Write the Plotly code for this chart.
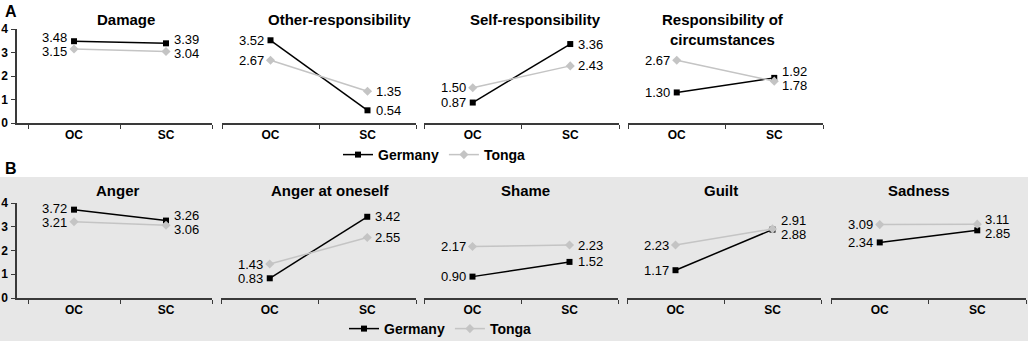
import plotly.graph_objects as go

# ---------------- data ----------------
conditions = ["OC", "SC"]
y_ticks = [0, 1, 2, 3, 4]

panel_a_titles = ["Damage", "Other-responsibility", "Self-responsibility",
                  "Responsibility of<br>circumstances"]
panel_a_germany = [[3.48, 3.39], [3.52, 0.54], [0.87, 3.36], [1.30, 1.92]]
panel_a_tonga = [[3.15, 3.04], [2.67, 1.35], [1.50, 2.43], [2.67, 1.78]]

panel_b_titles = ["Anger", "Anger at oneself", "Shame", "Guilt", "Sadness"]
panel_b_germany = [[3.72, 3.26], [0.83, 3.42], [0.90, 1.52], [1.17, 2.88], [2.34, 2.85]]
panel_b_tonga = [[3.21, 3.06], [1.43, 2.55], [2.17, 2.23], [2.23, 2.91], [3.09, 3.11]]

series_names = ["Germany", "Tonga"]

# ---------------- style / layout ----------------
W, H = 1028, 341
FONT = "Liberation Sans, Arial, sans-serif"
AXIS_COLOR = "#3a3a3a"
G_COLOR = "#000000"
T_COLOR = "#c4c4c4"


def fx(p):
    return p / W


def fy(p):
    return 1 - p / H


panels = [
    dict(letter="A", letter_y=12, titles=panel_a_titles, g=panel_a_germany, t=panel_a_tonga,
         xdom=[(17, 212), (222, 416), (424, 619), (628, 823)],
         title_x=[126, 339, 535, 723], title_top=9,
         y_top=29, y_bot=123, legend="legend", legend_y=155, legend_x=338),
    dict(letter="B", letter_y=168, titles=panel_b_titles, g=panel_b_germany, t=panel_b_tonga,
         xdom=[(17, 212), (221, 416), (424, 618), (627, 821), (831, 1026)],
         title_x=[118, 330, 525, 721, 919], title_top=180,
         y_top=203, y_bot=298, legend="legend2", legend_y=329, legend_x=344),
]

fig = go.Figure()
layout = {}
annotations = []
k = 0
for panel in panels:
    ppu = (panel["y_bot"] - panel["y_top"]) / 4.0
    for j, title in enumerate(panel["titles"]):
        k += 1
        xa = "x" if k == 1 else f"x{k}"
        ya = "y" if k == 1 else f"y{k}"
        x0, x1 = panel["xdom"][j]
        xrange = [-0.62, 1.5] if j == 0 else [-0.5, 1.5]
        layout["xaxis" if k == 1 else f"xaxis{k}"] = dict(
            domain=[fx(x0), fx(x1)], anchor=ya, type="category",
            categoryorder="array", categoryarray=conditions, range=xrange,
            showline=True, linecolor=AXIS_COLOR, linewidth=1.5,
            ticks="outside", tickson="boundaries", ticklen=4, tickwidth=1.3,
            tickcolor=AXIS_COLOR, showgrid=False, zeroline=False,
            tickfont=dict(family=FONT, size=12, color="black", weight="bold"),
            fixedrange=True, automargin=False,
        )
        yax = dict(
            domain=[fy(panel["y_bot"]), fy(panel["y_top"])], anchor=xa,
            range=[0, 4], showgrid=False, zeroline=False, fixedrange=True,
            automargin=False,
        )
        if j == 0:
            yax.update(showline=True, linecolor=AXIS_COLOR, linewidth=1.5,
                       ticks="outside", ticklen=4, tickwidth=1.3, tickcolor=AXIS_COLOR,
                       tickvals=y_ticks, ticklabelstandoff=1,
                       tickfont=dict(family=FONT, size=12, color="black", weight="bold"))
        else:
            yax.update(visible=False)
        layout["yaxis" if k == 1 else f"yaxis{k}"] = yax

        gv = panel["g"][j]
        tv = panel["t"][j]
        fig.add_trace(go.Scatter(
            x=conditions, y=gv, name=series_names[0], mode="lines+markers",
            line=dict(color=G_COLOR, width=1.5),
            marker=dict(symbol="square", size=6, color=G_COLOR),
            xaxis=xa, yaxis=ya, legend=panel["legend"], showlegend=(j == 0),
            hoverinfo="skip"))
        fig.add_trace(go.Scatter(
            x=conditions, y=tv, name=series_names[1], mode="lines+markers",
            line=dict(color=T_COLOR, width=1.5),
            marker=dict(symbol="diamond", size=7, color=T_COLOR),
            xaxis=xa, yaxis=ya, legend=panel["legend"], showlegend=(j == 0),
            hoverinfo="skip"))

        # value labels
        for c, cat in enumerate(conditions):
            a, b = gv[c], tv[c]
            gap = abs(a - b) * ppu
            need = max(0.0, 14 - gap)
            up, down = need * 0.6, -need * 0.4
            shifts = {0: up if a >= b else down, 1: up if b > a else down}
            for s, val in enumerate([a, b]):
                annotations.append(dict(
                    x=cat, y=val, xref=xa, yref=ya, text=f"{val:.2f}",
                    showarrow=False,
                    xanchor="right" if c == 0 else "left",
                    xshift=-5 if c == 0 else 6, yshift=shifts[s],
                    font=dict(family=FONT, size=13, color="black")))

        # subplot title
        annotations.append(dict(
            x=fx(panel["title_x"][j]), y=fy(panel["title_top"]), xref="paper", yref="paper",
            text=f"<b>{title}</b>", showarrow=False, xanchor="center", yanchor="top",
            font=dict(family=FONT, size=15, color="black")))

    annotations.append(dict(
        x=fx(3), y=fy(panel["letter_y"]), xref="paper", yref="paper",
        text=f"<b>{panel['letter']}</b>", showarrow=False, xanchor="left", yanchor="middle",
        font=dict(family=FONT, size=16, color="black")))

    layout[panel["legend"]] = dict(
        orientation="h", x=fx(panel["legend_x"]), y=fy(panel["legend_y"]),
        xanchor="left", yanchor="middle", bgcolor="rgba(0,0,0,0)",
        font=dict(family=FONT, size=14, color="black", weight="bold"),
        itemclick=False, itemdoubleclick=False)

fig.update_layout(
    **layout,
    annotations=annotations,
    shapes=[dict(type="rect", xref="paper", yref="paper", x0=0, x1=1, y0=0, y1=fy(177),
                 fillcolor="#e7e7e7", line=dict(width=0), layer="below")],
    width=W, height=H, margin=dict(l=0, r=0, t=0, b=0, pad=0, autoexpand=False),
    paper_bgcolor="white", plot_bgcolor="rgba(0,0,0,0)",
    font=dict(family=FONT, color="black"),
    showlegend=True,
)

fig.write_html("out.html", config={"displayModeBar": False},
               post_script="document.body.style.margin='0';document.body.style.overflow='hidden';")
